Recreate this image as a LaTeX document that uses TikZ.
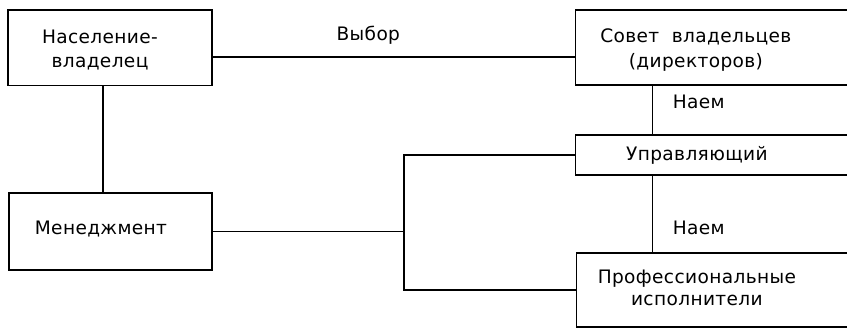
\documentclass[tikz,border=0pt]{standalone}
\usepackage{fontspec}
\setmainfont{DejaVu Sans}[LetterSpace=2]
\tikzset{
	block/.style={draw, line width=1.2pt, inner sep=0pt},
	caption/.style={align=center, inner sep=0pt, font=\fontsize{16}{21}\selectfont},
	link/.style={line width=1.2pt}
}
\begin{document}
\begin{tikzpicture}
		\useasboundingbox (0,0) rectangle (25.67,10);
		\clip (0,0) rectangle (25.67,10);

		\node[block, minimum width=6.18cm, minimum height=2.3cm] (owner) at (3.33,8.55) {};
		\node[block, minimum width=6.15cm, minimum height=2.33cm] (mgmt) at (3.35,2.98) {};
		\node[block, anchor=west, minimum width=9.6cm, minimum height=2.27cm] (council) at (17.42,8.56) {};
		\node[block, anchor=west, minimum width=9.6cm, minimum height=1.21cm] (manager) at (17.42,5.30) {};
		\node[block, anchor=west, minimum width=9.6cm, minimum height=2.24cm] (pros) at (17.45,1.21) {};

		\node[caption] (ownerText) at (3.03,8.48) {Население-\\владелец};
		\node[caption] (mgmtText) at (3.06,3.06) {Менеджмент};
		\node[caption] (councilText) at (21.09,8.48) {Совет\ \ владельцев\\(директоров)};
		\node[caption] (managerText) at (21.12,5.30) {Управляющий};
		\node[caption, font=\fontsize{16}{19}\selectfont] (prosText) at (21.12,1.27) {Профессиональные\\исполнители};

		\coordinate (vote) at ([yshift=-0.28cm]owner.east);
		\coordinate (drop) at ([xshift=-0.21cm]owner.south);
		\coordinate (spine) at (19.77,0);
		\coordinate (fork) at (12.24,0);

		\draw[link] (vote) -- (vote -| council.west) node[pos=0.43, yshift=0.67cm, caption] (choice) {Выбор};
		\draw[link] (drop) -- (drop |- mgmt.north);
		\draw[link] (council.south -| spine) -- (manager.north -| spine) node[pos=0.34, anchor=west, xshift=0.6cm, caption] (hireTop) {Наем};
		\draw[link] (manager.south -| spine) -- (pros.north -| spine) node[pos=0.68, anchor=west, xshift=0.6cm, caption] (hireBottom) {Наем};

		\draw[link] (manager.west) -| (fork |- pros.west) -- (pros.west);
		\draw[link] (mgmt.east) -- (mgmt.east -| fork);
	\end{tikzpicture}
\end{document}
